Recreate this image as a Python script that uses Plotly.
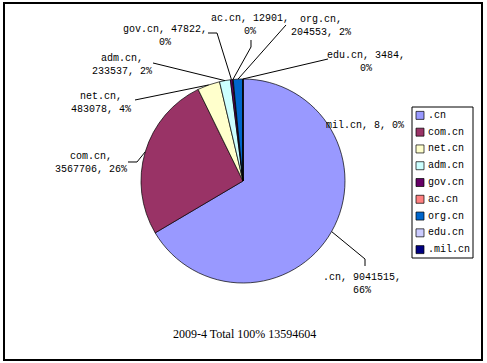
import math
import plotly.graph_objects as go

# ---- data ----
categories = [".cn", "com.cn", "net.cn", "adm.cn", "gov.cn", "ac.cn", "org.cn", "edu.cn", ".mil.cn"]
label_names = [".cn", "com.cn", "net.cn", "adm.cn", "gov.cn", "ac.cn", "org.cn", "edu.cn", "mil.cn"]
values = [9041515, 3567706, 483078, 233537, 47822, 12901, 204553, 3484, 8]
colors = ["#9999FF", "#993366", "#FFFFCC", "#CCFFFF", "#660066", "#FF8080", "#0066CC", "#CCCCFF", "#000080"]
period = "2009-4"

W, H = 487, 363
CX, CY, R = 243, 181, 102


def px(x):
    return x / W


def py(y):
    return 1 - y / H


total = sum(values)

# percentages rounded so that they add up to 100 (adjust the largest slice)
pcts = [round(100 * v / total) for v in values]
imax = values.index(max(values))
pcts[imax] += 100 - sum(pcts)

fig = go.Figure(go.Pie(
    labels=categories, values=values, sort=False, direction="clockwise", rotation=0,
    marker=dict(colors=colors, line=dict(color="black", width=0.7)),
    textinfo="none", hoverinfo="label+value+percent", showlegend=False,
    domain=dict(x=[px(CX - R), px(CX + R)], y=[py(CY + R), py(CY - R)]),
))

# label layout: (center x, center y), line-break style, leader path points from label side
label_layout = {
    ".cn": ((362, 284), 1, [(365, 266), (365, 259)]),
    "com.cn": ((91, 163), 0, [(128, 162), (137, 162)]),
    "net.cn": ((101, 103), 0, [(135, 100)]),
    "adm.cn": ((122, 65), 0, [(153, 63)]),
    "gov.cn": ((165, 36), 1, [(208, 33), (217, 33)]),
    "ac.cn": ((250, 25), 1, [(251, 40), (251, 47)]),
    "org.cn": ((321, 26), 0, [(286, 25)]),
    "edu.cn": ((366, 62), 1, [(328, 59)]),
    "mil.cn": ((365, 125), None, []),
}

annotations = []
shapes = []
cum = 0
for name, v, p in zip(label_names, values, pcts):
    mid = (cum + v / 2) / total
    cum += v
    theta = 2 * math.pi * mid
    ex = CX + R * math.sin(theta)
    ey = CY - R * math.cos(theta)
    (tx, ty), brk, pts = label_layout[name]
    parts = [f"{name},", f"{v},", f"{p}%"]
    if brk is None:
        text = " ".join(parts)
    elif brk == 0:
        text = parts[0] + "<br>" + " ".join(parts[1:])
    else:
        text = " ".join(parts[:2]) + "<br>" + parts[2]
    annotations.append(dict(
        x=px(tx), y=py(ty), xref="paper", yref="paper", text=text, showarrow=False,
        xanchor="center", yanchor="middle", align="center",
        font=dict(family="Liberation Mono", size=10, color="black"),
    ))
    if pts:
        path_pts = pts + [(ex, ey)]
        d = "M " + " L ".join(f"{px(a):.5f},{py(b):.5f}" for a, b in path_pts)
        shapes.append(dict(type="path", path=d, xref="paper", yref="paper",
                           line=dict(color="black", width=1)))

# legend box
LX0, LY0, LX1, LY1 = 412, 107, 473, 258
shapes.append(dict(type="rect", xref="paper", yref="paper", x0=px(LX0), x1=px(LX1),
                   y0=py(LY1), y1=py(LY0), line=dict(color="black", width=1),
                   fillcolor="white"))
step = (LY1 - LY0) / len(categories)
for i, (cat, col) in enumerate(zip(categories, colors)):
    yc = LY0 + step * (i + 0.5)
    shapes.append(dict(type="rect", xref="paper", yref="paper",
                       x0=px(416), x1=px(424), y0=py(yc + 4), y1=py(yc - 4),
                       fillcolor=col, line=dict(color="black", width=0.7)))
    annotations.append(dict(x=px(426), y=py(yc), xref="paper", yref="paper", text=cat,
                            showarrow=False, xanchor="left", yanchor="middle",
                            font=dict(family="Liberation Mono", size=10, color="black")))

# outer frame
shapes.append(dict(type="rect", xref="paper", yref="paper", x0=px(4), x1=px(482),
                   y0=py(360), y1=py(3), line=dict(color="black", width=2)))

annotations.append(dict(x=px(244), y=py(334), xref="paper", yref="paper",
                        text=f"{period} Total 100% {total}", showarrow=False,
                        xanchor="center", yanchor="middle",
                        font=dict(family="Liberation Serif", size=12, color="black")))

fig.update_layout(width=W, height=H, margin=dict(l=0, r=0, t=0, b=0),
                  paper_bgcolor="white", plot_bgcolor="white",
                  shapes=shapes, annotations=annotations)
fig.write_html("out.html", config={"displayModeBar": False},
               post_script="document.body.style.margin='0';document.body.style.overflow='hidden';")
